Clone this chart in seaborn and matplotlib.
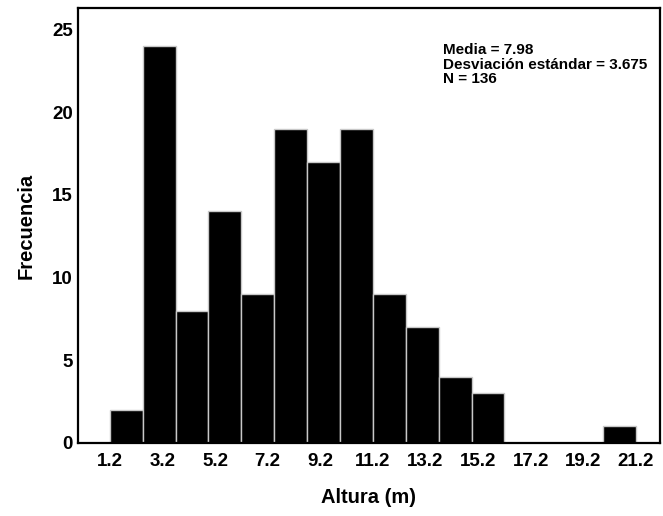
import numpy as np
import pandas as pd
import matplotlib
matplotlib.use("Agg")
import matplotlib.pyplot as plt
import seaborn as sns

# Data
bin_start = 1.2
bin_end = 21.2
counts = [2, 24, 8, 14, 9, 19, 17, 19, 9, 7, 4, 3, 0, 0, 0, 1]
x_tick_labels = ["1.2", "3.2", "5.2", "7.2", "9.2", "11.2", "13.2", "15.2", "17.2", "19.2", "21.2"]
y_ticks = [0, 5, 10, 15, 20, 25]
stats_text = "Media = 7.98\nDesviación estándar = 3.675\nN = 136"

edges = np.linspace(bin_start, bin_end, len(counts) + 1)
centers = (edges[:-1] + edges[1:]) / 2
df = pd.DataFrame({"altura": centers, "n": counts})

sns.set_theme(style="white")
plt.rcParams['font.family'] = ['Liberation Sans', 'DejaVu Sans']
plt.rcParams['font.weight'] = 'bold'
plt.rcParams['text.color'] = 'black'

fig = plt.figure(figsize=(6.63, 5.16), dpi=100)
ax = fig.add_axes([0.118, 0.1415, 0.877, 0.843])

sns.histplot(data=df, x="altura", weights="n", bins=len(counts),
             binrange=(bin_start, bin_end), ax=ax,
             color="black", edgecolor="#c8c8c8", linewidth=1.0, alpha=1.0)

ax.set_xlim(0.0, 22.1)
ax.set_ylim(0, 26.3)
ax.set_xticks([float(t) for t in x_tick_labels])
ax.set_xticklabels(x_tick_labels, fontsize=13.5, fontweight='bold', color='black')
ax.set_yticks(y_ticks)
ax.set_yticklabels([str(t) for t in y_ticks], fontsize=13.5, fontweight='bold', color='black')
ax.tick_params(axis='x', length=0, pad=7)
ax.tick_params(axis='y', length=0, pad=4)
ax.set_xlabel("Altura (m)", fontsize=14.5, fontweight='bold', labelpad=13, color='black')
ax.set_ylabel("Frecuencia", fontsize=14.5, fontweight='bold', labelpad=12, color='black')

for s in ax.spines.values():
    s.set_visible(True)
    s.set_color("black")
    s.set_linewidth(1.6)

ax.text(0.627, 0.919, stats_text, transform=ax.transAxes, ha='left', va='top',
        fontsize=11, fontweight='bold', linespacing=1.05, color='black')

fig.savefig("out.png", dpi=100)
